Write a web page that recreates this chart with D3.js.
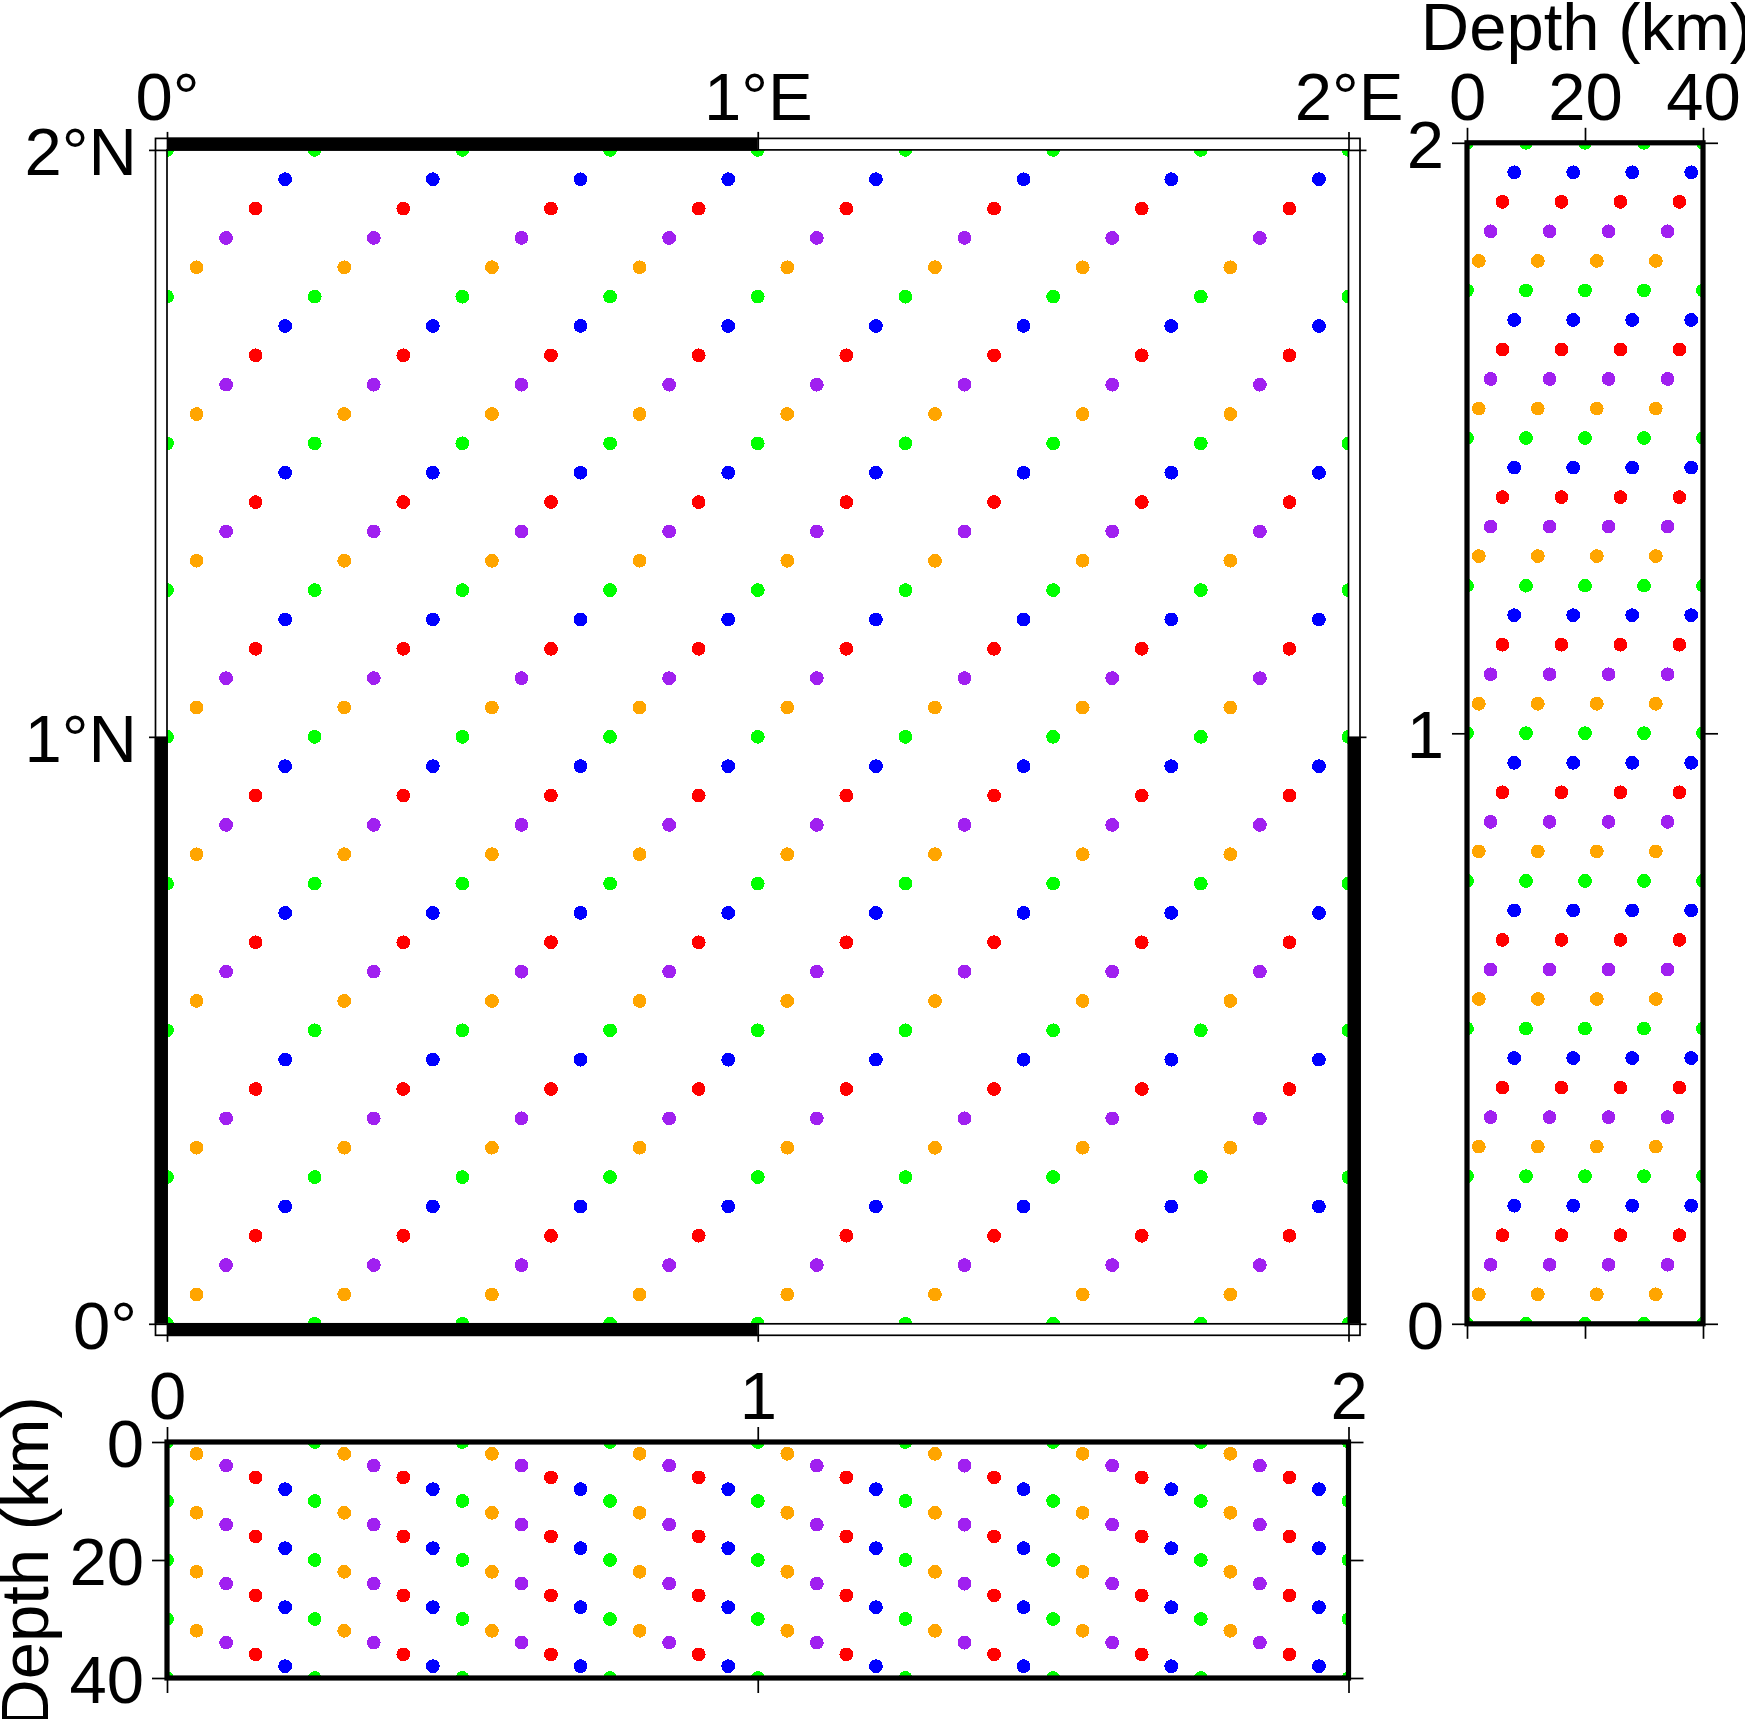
<!DOCTYPE html>
<html>
<head>
<meta charset="utf-8">
<script src="https://cdn.jsdelivr.net/npm/d3@7"></script>
<style>
  body { margin: 0; background: #fff; }
  svg { display: block; }
  text { font-family: "Liberation Sans", sans-serif; fill: #000; }
</style>
</head>
<body>
<div id="chart"></div>
<script>
'use strict';

var seriesNames = ['green', 'orange', 'purple', 'red', 'blue'];
var seriesColors = ['#00ff00', '#ffa500', '#a020f0', '#ff0000', '#0000ff'];

var seriesLon = [
  [0, 0.25, 0.5, 0.75, 1, 1.25, 1.5, 1.75, 2],
  [0.05, 0.3, 0.55, 0.8, 1.05, 1.3, 1.55, 1.8],
  [0.1, 0.35, 0.6, 0.85, 1.1, 1.35, 1.6, 1.85],
  [0.15, 0.4, 0.65, 0.9, 1.15, 1.4, 1.65, 1.9],
  [0.2, 0.45, 0.7, 0.95, 1.2, 1.45, 1.7, 1.95]
];
var seriesLat = [
  [0, 0.25, 0.5, 0.75, 1, 1.25, 1.5, 1.75, 2],
  [0.05, 0.3, 0.55, 0.8, 1.05, 1.3, 1.55, 1.8],
  [0.1, 0.35, 0.6, 0.85, 1.1, 1.35, 1.6, 1.85],
  [0.15, 0.4, 0.65, 0.9, 1.15, 1.4, 1.65, 1.9],
  [0.2, 0.45, 0.7, 0.95, 1.2, 1.45, 1.7, 1.95]
];
var seriesDepth = [
  [0, 10, 20, 30, 40],
  [2, 12, 22, 32],
  [4, 14, 24, 34],
  [6, 16, 26, 36],
  [8, 18, 28, 38]
];

var lonTicks = [0, 1, 2];
var latTicks = [0, 1, 2];
var depthTicks = [0, 20, 40];
var lonDegreeLabels = ['0°', '1°E', '2°E'];
var latDegreeLabels = ['0°', '1°N', '2°N'];
var frameBlack = [[0, 1]];
var depthTitle = 'Depth (km)';

var fontSize = 67;
var dotRadius = 6.9;
var thinLine = 1.7;
var thickLine = 5.2;
var bandWidth = 11.5;

var svg = d3.select('#chart').append('svg')
  .attr('width', 1745)
  .attr('height', 1719);

var lonX = d3.scaleLinear().domain([0, 2]).range([167, 1348.5]);
var mapLatY = d3.scaleLinear().domain([0, 2]).range([1323.8, 149.9]);
var sideDepthX = d3.scaleLinear().domain([0, 40]).range([1467, 1703]);
var sideLatY = d3.scaleLinear().domain([0, 2]).range([1323.8, 142.8]);
var belowDepthY = d3.scaleLinear().domain([0, 40]).range([1442, 1678]);

function drawDots(id, x, y, xOf, yOf) {
  var x0 = x.range()[0], x1 = x.range()[1];
  var yr = y.range();
  var top = Math.min(yr[0], yr[1]), bottom = Math.max(yr[0], yr[1]);

  svg.append('clipPath').attr('id', id)
    .append('rect')
    .attr('x', x0)
    .attr('y', top)
    .attr('width', x1 - x0)
    .attr('height', bottom - top);

  var g = svg.append('g').attr('clip-path', 'url(#' + id + ')');

  seriesNames.forEach(function (name, i) {
    g.append('g').attr('class', 'series ' + name)
      .selectAll('circle')
      .data(d3.cross(xOf(i), yOf(i)))
      .join('circle')
      .attr('cx', function (d) { return x(d[0]); })
      .attr('cy', function (d) { return y(d[1]); })
      .attr('r', dotRadius)
      .attr('fill', seriesColors[i])
      .attr('shape-rendering', 'crispEdges');
  });
}

function drawAxis(axis, tx, ty, vertical) {
  var g = svg.append('g')
    .attr('transform', 'translate(' + tx + ',' + ty + ')')
    .call(axis);
  g.select('.domain').remove();
  g.selectAll('.tick line').attr('stroke', '#000').attr('stroke-width', thinLine);
  g.selectAll('.tick text')
    .style('font-size', fontSize + 'px')
    .style('font-family', '"Liberation Sans", sans-serif')
    .attr('fill', '#000');
  if (vertical) {
    g.selectAll('.tick text').attr('dy', '0.365em');
  } else {
    g.selectAll('.tick text').attr('dy', 0);
  }
  return g;
}

function labelFrom(labels, ticks) {
  return function (d) { return labels[ticks.indexOf(d)]; };
}

// main map
drawDots('clipMap', lonX, mapLatY,
  function (i) { return seriesLon[i]; },
  function (i) { return seriesLat[i]; });

var mapLeft = lonX.range()[0], mapRight = lonX.range()[1];
var mapTop = mapLatY.range()[1], mapBottom = mapLatY.range()[0];

svg.append('rect')
  .attr('x', mapLeft - bandWidth)
  .attr('y', mapTop - bandWidth)
  .attr('width', mapRight - mapLeft + 2 * bandWidth)
  .attr('height', mapBottom - mapTop + 2 * bandWidth)
  .attr('fill', 'none')
  .attr('stroke', '#000')
  .attr('stroke-width', thinLine);
svg.append('rect')
  .attr('x', mapLeft)
  .attr('y', mapTop)
  .attr('width', mapRight - mapLeft)
  .attr('height', mapBottom - mapTop)
  .attr('fill', 'none')
  .attr('stroke', '#000')
  .attr('stroke-width', thinLine);

frameBlack.forEach(function (seg) {
  [mapTop - bandWidth - 0.8, mapBottom - 0.8].forEach(function (y) {
    svg.append('rect')
      .attr('x', lonX(seg[0]))
      .attr('y', y)
      .attr('width', lonX(seg[1]) - lonX(seg[0]))
      .attr('height', bandWidth + 1.6)
      .attr('fill', '#000');
  });
  [mapLeft - bandWidth - 0.8, mapRight - 0.8].forEach(function (x) {
    svg.append('rect')
      .attr('x', x)
      .attr('y', mapLatY(seg[1]))
      .attr('width', bandWidth + 1.6)
      .attr('height', mapLatY(seg[0]) - mapLatY(seg[1]))
      .attr('fill', '#000');
  });
});

drawAxis(d3.axisTop(lonX).tickValues(lonTicks).tickSizeInner(18).tickSizeOuter(0).tickPadding(12)
  .tickFormat(labelFrom(lonDegreeLabels, lonTicks)), 0, mapTop, false);
drawAxis(d3.axisBottom(lonX).tickValues(lonTicks).tickSizeInner(18).tickSizeOuter(0)
  .tickFormat(''), 0, mapBottom, false);
drawAxis(d3.axisLeft(mapLatY).tickValues(latTicks).tickSizeInner(18).tickSizeOuter(0).tickPadding(12)
  .tickFormat(labelFrom(latDegreeLabels, latTicks)), mapLeft, 0, true);
drawAxis(d3.axisRight(mapLatY).tickValues(latTicks).tickSizeInner(18).tickSizeOuter(0)
  .tickFormat(''), mapRight, 0, true);

// right panel, latitude against depth
drawDots('clipSide', sideDepthX, sideLatY,
  function (i) { return seriesDepth[i]; },
  function (i) { return seriesLat[i]; });

svg.append('rect')
  .attr('x', sideDepthX.range()[0])
  .attr('y', sideLatY.range()[1])
  .attr('width', sideDepthX.range()[1] - sideDepthX.range()[0])
  .attr('height', sideLatY.range()[0] - sideLatY.range()[1])
  .attr('fill', 'none')
  .attr('stroke', '#000')
  .attr('stroke-width', thickLine);

drawAxis(d3.axisTop(sideDepthX).tickValues(depthTicks).tickSizeInner(15).tickSizeOuter(0).tickPadding(8)
  .tickFormat(d3.format('d')), 0, sideLatY.range()[1], false);
drawAxis(d3.axisBottom(sideDepthX).tickValues(depthTicks).tickSizeInner(15).tickSizeOuter(0).tickFormat(''),
  0, sideLatY.range()[0], false);
drawAxis(d3.axisLeft(sideLatY).tickValues(latTicks).tickSizeInner(15).tickSizeOuter(0).tickPadding(8)
  .tickFormat(d3.format('d')), sideDepthX.range()[0], 0, true);
drawAxis(d3.axisRight(sideLatY).tickValues(latTicks).tickSizeInner(15).tickSizeOuter(0).tickFormat(''),
  sideDepthX.range()[1], 0, true);

// bottom panel, depth against longitude
drawDots('clipBelow', lonX, belowDepthY,
  function (i) { return seriesLon[i]; },
  function (i) { return seriesDepth[i]; });

svg.append('rect')
  .attr('x', lonX.range()[0])
  .attr('y', belowDepthY.range()[0])
  .attr('width', lonX.range()[1] - lonX.range()[0])
  .attr('height', belowDepthY.range()[1] - belowDepthY.range()[0])
  .attr('fill', 'none')
  .attr('stroke', '#000')
  .attr('stroke-width', thickLine);

drawAxis(d3.axisTop(lonX).tickValues(lonTicks).tickSizeInner(15).tickSizeOuter(0).tickPadding(8)
  .tickFormat(d3.format('d')), 0, belowDepthY.range()[0], false);
drawAxis(d3.axisBottom(lonX).tickValues(lonTicks).tickSizeInner(15).tickSizeOuter(0).tickFormat(''),
  0, belowDepthY.range()[1], false);
drawAxis(d3.axisLeft(belowDepthY).tickValues(depthTicks).tickSizeInner(15).tickSizeOuter(0).tickPadding(8)
  .tickFormat(d3.format('d')), lonX.range()[0], 0, true);
drawAxis(d3.axisRight(belowDepthY).tickValues(depthTicks).tickSizeInner(15).tickSizeOuter(0).tickFormat(''),
  lonX.range()[1], 0, true);

// axis titles
svg.append('text')
  .attr('x', d3.mean(sideDepthX.range()) + 1.5)
  .attr('y', 50)
  .attr('text-anchor', 'middle')
  .style('font-size', fontSize + 'px')
  .text(depthTitle);

svg.append('text')
  .attr('transform', 'translate(48,' + 1562 + ') rotate(-90)')
  .attr('text-anchor', 'middle')
  .style('font-size', fontSize + 'px')
  .text(depthTitle);
</script>
</body>
</html>
